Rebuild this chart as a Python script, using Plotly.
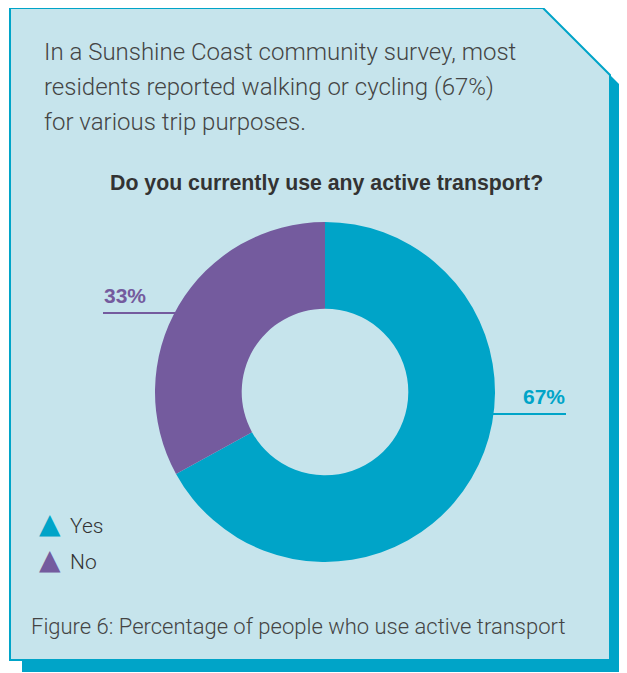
import plotly.graph_objects as go

# ---- data ----
categories = ["Yes", "No"]
values = [67, 33]
colors = ["#00a4c8", "#745b9e"]
intro_lines = [
    "In a Sunshine Coast community survey, most",
    "residents reported walking or cycling (67%)",
    "for various trip purposes.",
]
title_text = "Do you currently use any active transport?"
caption_text = "Figure 6: Percentage of people who use active transport"

OFF = 8  # browser body margin
W, H = 627 - OFF, 673 - OFF


def px(x):
    return (x - OFF) / W


def py(y):
    return 1 - (y - OFF) / H


def path(points):
    return "M " + " L ".join(f"{px(x):.5f},{py(y):.5f}" for x, y in points) + " Z"


fig = go.Figure()

# donut
cx, cy, r = 325, 392, 170
fig.add_trace(go.Pie(
    labels=categories, values=values, hole=0.49,
    marker=dict(colors=colors, line=dict(width=0)),
    direction="clockwise", rotation=0, sort=False,
    textinfo="none", hoverinfo="label+percent", showlegend=False,
    domain=dict(x=[px(cx - r), px(cx + r)], y=[py(cy + r), py(cy - r)]),
))

shapes = []
panel = [(10, 8), (543, 8), (610, 75), (610, 660), (10, 660)]
shadow = [(x + 12, y + 12) for x, y in panel]
shapes.append(dict(type="path", xref="paper", yref="paper", path=path(shadow),
                   fillcolor="#00a4c8", line=dict(width=0), layer="below"))
shapes.append(dict(type="path", xref="paper", yref="paper", path=path(panel),
                   fillcolor="#c6e4ec", line=dict(color="#00a4c8", width=2), layer="below"))

annotations = []
for i, line in enumerate(intro_lines):
    annotations.append(dict(
        x=px(42), y=py(52 + i * 35), xref="paper", yref="paper", xanchor="left", yanchor="middle",
        text=line, showarrow=False,
        font=dict(family="Roboto", size=24, color="#444444", weight=300),
    ))
annotations.append(dict(
    x=px(326), y=py(183), xref="paper", yref="paper", xanchor="center", yanchor="middle",
    text=f"<b>{title_text}</b>", showarrow=False,
    font=dict(family="Liberation Sans", size=21.3, color="#333333"),
))
annotations.append(dict(
    x=px(29), y=py(626), xref="paper", yref="paper", xanchor="left", yanchor="middle",
    text=caption_text, showarrow=False,
    font=dict(family="Roboto", size=22, color="#444444", weight=300),
))

# legend (triangle glyphs + category names)
for i, (cat, col) in enumerate(zip(categories, colors)):
    yy = 525 + i * 36
    annotations.append(dict(
        x=px(49.5), y=py(yy - 2), xref="paper", yref="paper", xanchor="center", yanchor="middle",
        text="▲", showarrow=False, font=dict(family="DejaVu Sans", size=28, color=col),
    ))
    annotations.append(dict(
        x=px(68), y=py(yy + 1), xref="paper", yref="paper", xanchor="left", yanchor="middle",
        text=cat, showarrow=False,
        font=dict(family="Roboto", size=21, color="#333333", weight=300),
    ))

# value labels with leader lines
total = sum(values)
label_pos = {
    "No": dict(tx=102, ty=295, lx0=103, lx1=176, ly=313, anchor="left"),
    "Yes": dict(tx=567, ty=396, lx0=493, lx1=566, ly=414, anchor="right"),
}
for cat, val, col in zip(categories, values, colors):
    p = label_pos[cat]
    annotations.append(dict(
        x=px(p["tx"]), y=py(p["ty"]), xref="paper", yref="paper",
        xanchor=p["anchor"], yanchor="middle",
        text=f"<b>{round(val / total * 100)}%</b>", showarrow=False,
        font=dict(family="Liberation Sans", size=21, color=col),
    ))
    shapes.append(dict(type="line", xref="paper", yref="paper",
                       x0=px(p["lx0"]), x1=px(p["lx1"]), y0=py(p["ly"]), y1=py(p["ly"]),
                       line=dict(color=col, width=2)))

fig.update_layout(
    width=W, height=H, margin=dict(l=0, r=0, t=0, b=0),
    paper_bgcolor="white", plot_bgcolor="rgba(0,0,0,0)",
    shapes=shapes, annotations=annotations,
    showlegend=False,
)

fig.write_html("out.html")
